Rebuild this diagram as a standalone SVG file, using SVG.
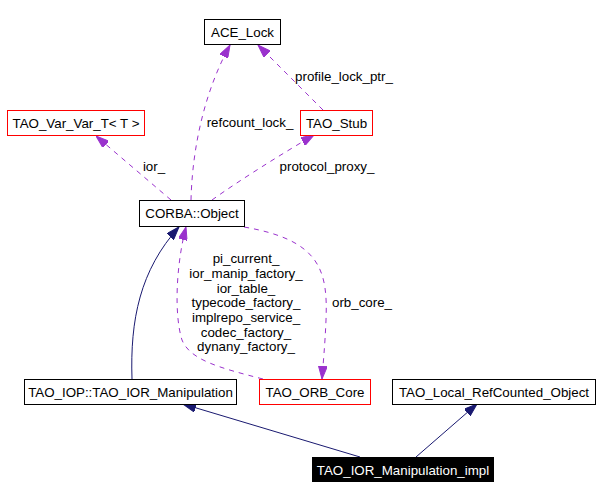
<svg xmlns="http://www.w3.org/2000/svg" width="602" height="499" viewBox="0 0 602 499">
<style>
text{font-family:"Liberation Sans",Arial,sans-serif;font-size:13.33px;fill:#000}
.n rect{fill:#fff;stroke:#000;stroke-width:1}
.r rect{stroke:#ff0000}
.c text{text-anchor:middle}
.u{fill:none;stroke:#9a32cd;stroke-width:1;stroke-dasharray:5,5}
.h{fill:none;stroke:#191970;stroke-width:1}
</style>
<defs>
<marker id="ap" markerUnits="userSpaceOnUse" viewBox="0 0 13 9" refX="13" refY="4.5" markerWidth="13" markerHeight="9" orient="auto">
<path d="M0,0 L13,4.5 L0,9 z" fill="#9a32cd" stroke="#9a32cd"/>
</marker>
<marker id="an" markerUnits="userSpaceOnUse" viewBox="0 0 13 9" refX="13" refY="4.5" markerWidth="13" markerHeight="9" orient="auto">
<path d="M0,0 L13,4.5 L0,9 z" fill="#191970" stroke="#191970"/>
</marker>
</defs>
<g id="edges">
<path class="u" d="M191,200 C192,160 200,100 230,45" marker-end="url(#ap)"/>
<path class="u" d="M323,110 L258,45" marker-end="url(#ap)"/>
<path class="u" d="M171,200 L96,136" marker-end="url(#ap)"/>
<path class="u" d="M212,200 C240,180 280,155 314,135" marker-end="url(#ap)"/>
<path class="u" d="M244,227 C320,240 328,270 326,320 C325,345 323,365 322,379" marker-end="url(#ap)"/>
<path class="u" d="M263,379 C220,368 190,360 182,340 C174,315 176,265 186,227" marker-end="url(#ap)"/>
<path class="h" d="M132,379 C130,320 140,270 179,227" marker-end="url(#an)"/>
<path class="h" d="M360,457 L183,404" marker-end="url(#an)"/>
<path class="h" d="M416,457 L477,404" marker-end="url(#an)"/>
<g class="c">
<text x="250" y="127">refcount_lock_</text>
<text x="344" y="81">profile_lock_ptr_</text>
<text x="154" y="171">ior_</text>
<text x="327" y="171">protocol_proxy_</text>
<text x="362" y="307">orb_core_</text>
<text x="246" y="263">pi_current_</text>
<text x="246" y="278">ior_manip_factory_</text>
<text x="246" y="292.5">ior_table_</text>
<text x="246" y="307">typecode_factory_</text>
<text x="246" y="322">implrepo_service_</text>
<text x="246" y="336.5">codec_factory_</text>
<text x="246" y="351">dynany_factory_</text>
</g>
</g>
<g id="ACE_Lock" class="n c"><rect x="204.5" y="19.5" width="76" height="25"/><text x="242.5" y="37">ACE_Lock</text></g>
<g id="TAO_Stub" class="n r c"><rect x="300.5" y="110.5" width="72" height="25"/><text x="336.5" y="128">TAO_Stub</text></g>
<g id="TAO_Var_Var_T" class="n r c"><rect x="7.5" y="110.5" width="137" height="25"/><text x="76" y="128">TAO_Var_Var_T&lt; T &gt;</text></g>
<g id="CORBA_Object" class="n c"><rect x="139.5" y="200.5" width="105" height="26"/><text x="192" y="218">CORBA::Object</text></g>
<g id="TAO_IOP_TAO_IOR_Manipulation" class="n c"><rect x="24.5" y="379.5" width="212" height="25"/><text x="130.5" y="397">TAO_IOP::TAO_IOR_Manipulation</text></g>
<g id="TAO_ORB_Core" class="n r c"><rect x="259.5" y="379.5" width="111" height="25"/><text x="315" y="397">TAO_ORB_Core</text></g>
<g id="TAO_Local_RefCounted_Object" class="n c"><rect x="392.5" y="379.5" width="203" height="25"/><text x="494" y="397">TAO_Local_RefCounted_Object</text></g>
<g id="TAO_IOR_Manipulation_impl" class="c"><rect x="312" y="457" width="182" height="25" fill="#000"/><text x="403" y="474.5" style="fill:#fff">TAO_IOR_Manipulation_impl</text></g>
</svg>
